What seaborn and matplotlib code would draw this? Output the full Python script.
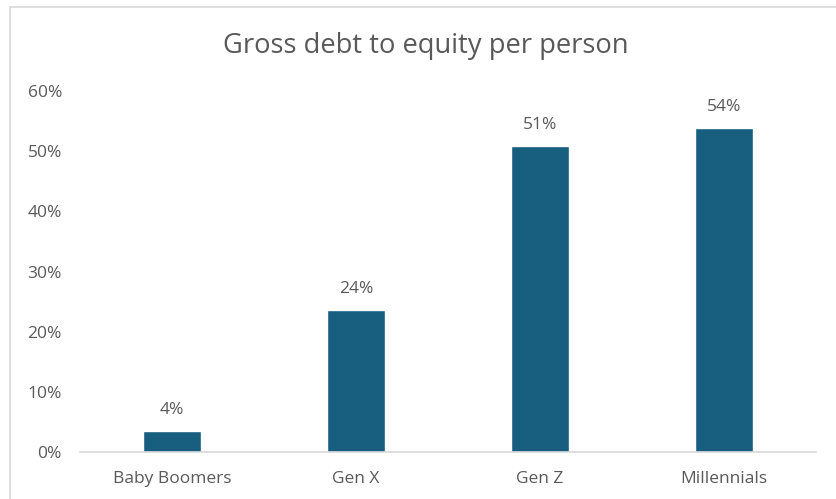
import matplotlib
matplotlib.use("Agg")
import matplotlib.pyplot as plt
from matplotlib.patches import Rectangle
from matplotlib.ticker import FuncFormatter
import seaborn as sns
import pandas as pd

# Gross debt-to-equity ratio per person, by generation (percent)
generations = ["Baby Boomers", "Gen X", "Gen Z", "Millennials"]
debt_to_equity = [3.5, 23.6, 50.8, 53.8]
y_ticks = [0, 10, 20, 30, 40, 50, 60]

df = pd.DataFrame({"generation": generations, "ratio": debt_to_equity})

sns.set_theme(style="white")
plt.rcParams["font.family"] = ["Open Sans", "DejaVu Sans"]

text_grey = "#595959"
bar_blue = "#175e7f"

fig = plt.figure(figsize=(8.37, 4.99), dpi=100)
fig.patch.set_facecolor("white")

# chart frame
fig.patches.append(Rectangle((10 / 837, -0.05), 1.2, 1 - 7 / 499 + 0.05,
                             transform=fig.transFigure, fill=False,
                             edgecolor="#d9d9d9", linewidth=1.2, zorder=0))

ax = fig.add_axes([80 / 837, 47 / 499, (816 - 80) / 837, (452 - 91) / 499])
sns.barplot(data=df, x="generation", y="ratio", color=bar_blue,
            width=0.31, saturation=1, ax=ax)

ax.set_ylim(0, 60)
ax.set_xlim(-0.5, len(generations) - 0.5)
ax.set_yticks(y_ticks)
ax.yaxis.set_major_formatter(FuncFormatter(lambda v, _: f"{v:.0f}%"))
ax.set_xlabel("")
ax.set_ylabel("")
ax.tick_params(axis="y", length=0, pad=13, labelsize=12.5, labelcolor=text_grey)
ax.tick_params(axis="x", length=0, pad=14, labelsize=12.5, labelcolor=text_grey)

for side in ["top", "right", "left"]:
    ax.spines[side].set_visible(False)
ax.spines["bottom"].set_color("#d9d9d9")
ax.spines["bottom"].set_linewidth(1.2)

for i, v in enumerate(debt_to_equity):
    ax.annotate(f"{v:.0f}%", (i, v), xytext=(0, 9.5), textcoords="offset points",
                ha="center", va="bottom", fontsize=12.5, color=text_grey)

fig.text(426 / 837, 1 - 46 / 499, "Gross debt to equity per person",
         ha="center", va="center", fontsize=19.7, color=text_grey)

fig.savefig("out.png", dpi=100, facecolor="white")
